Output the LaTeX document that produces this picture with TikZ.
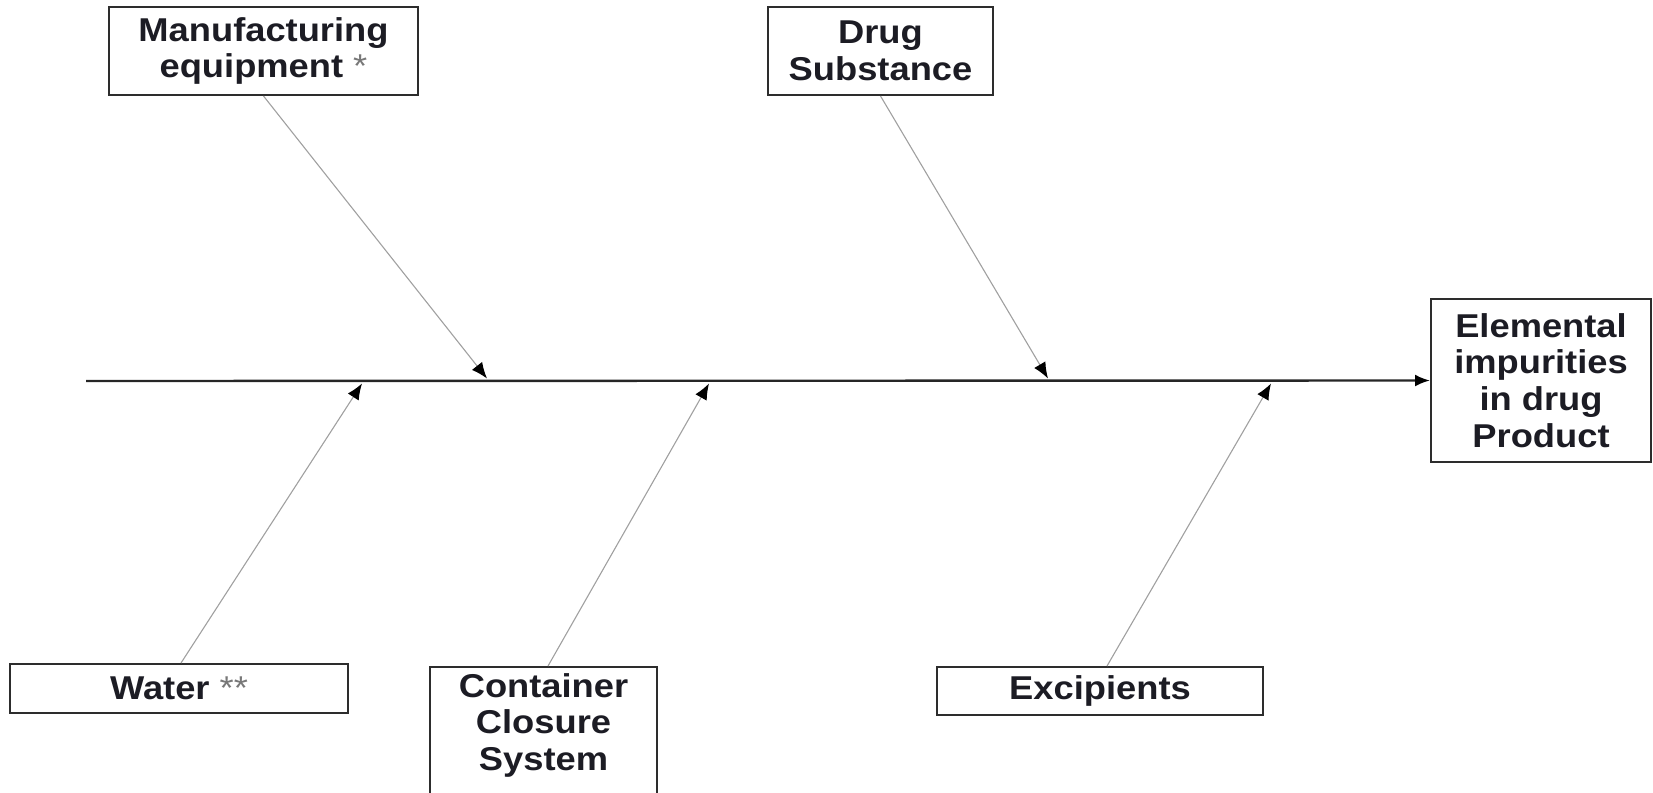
\documentclass[tikz,border=0pt]{standalone}
\usepackage{fontspec}
\setmainfont{Liberation Sans}[FakeStretch=1.1]
\usetikzlibrary{arrows.meta,calc}
\definecolor{txt}{RGB}{28,28,36}
\definecolor{frame}{RGB}{45,45,45}
\definecolor{branch}{RGB}{160,160,160}
\definecolor{star}{RGB}{120,120,120}
\newcommand{\lightstar}[1]{{\color{star}\mdseries #1}}
\tikzset{
  box/.style={draw=frame, line width=2pt, fill=white, align=center, inner sep=0pt,
    font=\fontsize{33}{36.7}\selectfont\bfseries, text=txt},
  branchline/.style={draw=branch, line width=1.1pt, -{Latex[black,length=16pt,width=13pt]}},
  spine/.style={draw=black!85, line width=2.4pt, -{Latex[black,length=15pt,width=12pt]}}
}
\begin{document}
\begin{tikzpicture}[x=1pt,y=-1pt]
\useasboundingbox (0,0) rectangle (1653,792);
\begin{scope}
\clip (0,0) rectangle (1653,792);
\node[box, minimum width=309pt, minimum height=88pt] (man) at (263.5,51) {Manufacturing\\equipment \lightstar{*}};
\node[box, minimum width=225pt, minimum height=88pt] (drug) at (880.5,51) {Drug\\Substance};
\node[box, minimum width=220pt, minimum height=163pt] (eip) at (1541,380.5) {Elemental\\impurities\\in drug\\Product};
\node[box, minimum width=338pt, minimum height=49pt] (water) at (179,688.5) {Water \lightstar{**}};
\node[box, anchor=north, minimum width=227pt, minimum height=140pt, text depth=30pt] (cont) at (543.5,666) {Container\\Closure\\System};
\node[box, minimum width=326pt, minimum height=48pt] (exc) at (1100,691) {Excipients};

\coordinate (start) at (86,381);
\coordinate (t1) at (487,378.5);
\coordinate (t2) at (1048,378.5);
\coordinate (t3) at (362,383.5);
\coordinate (t4) at (709,383.5);
\coordinate (t5) at (1271,383.5);

\draw[spine] (start) -- (eip.west);
\draw[branchline] (man.south) -- (t1);
\draw[branchline] (drug.south) -- (t2);
\draw[branchline] ($(water.north)+(2,0)$) -- (t3);
\draw[branchline] ($(cont.north)+(4.5,0)$) -- (t4);
\draw[branchline] ($(exc.north)+(7,0)$) -- (t5);
\end{scope}
\end{tikzpicture}
\end{document}
